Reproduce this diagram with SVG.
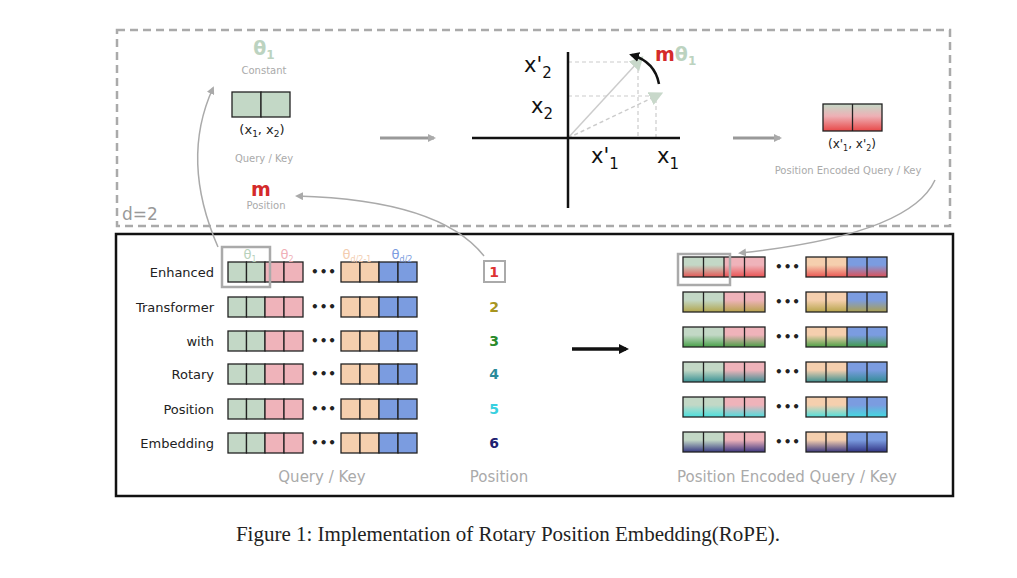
<svg xmlns="http://www.w3.org/2000/svg" width="1017" height="578" viewBox="0 0 1017 578">
<style>
text{font-family:"DejaVu Sans","Liberation Sans",sans-serif}
.c{stroke:#222;stroke-width:1.3}
.g{fill:#c3d8c6}.p{fill:#efb3ba}.o{fill:#f5cfae}.b{fill:#7b9ce0}
.lab{font-size:13px;fill:#222;text-anchor:end}
.dots{font-size:12px;fill:#222;font-weight:bold;letter-spacing:1px}
.gray{fill:#aaa;text-anchor:middle}
.num{font-size:14px;font-weight:bold;text-anchor:middle}
.ax{stroke:#111;stroke-width:2.5}
.dash{stroke:#ccc;stroke-width:1.2;stroke-dasharray:4 3;fill:none}
</style>
<defs>
<marker id="ah" markerWidth="8" markerHeight="8" refX="6" refY="4" orient="auto" markerUnits="userSpaceOnUse"><path d="M0,0L8,4L0,8z" fill="#aaa"/></marker>
<marker id="ahk" markerWidth="10" markerHeight="10" refX="7" refY="5" orient="auto" markerUnits="userSpaceOnUse"><path d="M0,0L10,5L0,10z" fill="#111"/></marker>
<marker id="ahl" markerWidth="14" markerHeight="14" refX="6" refY="7" orient="auto" markerUnits="userSpaceOnUse"><path d="M0,0L14,7L0,14z" fill="#c8d8ca"/></marker>
<g id="lrow">
<rect class="g c" x="228" y="-10" width="18.5" height="20"/><rect class="g c" x="246.5" y="-10" width="18.5" height="20"/>
<rect class="p c" x="265" y="-10" width="19" height="20"/><rect class="p c" x="284" y="-10" width="19" height="20"/>
<text class="dots" x="311" y="4">•••</text>
<rect class="o c" x="341" y="-10" width="19" height="20"/><rect class="o c" x="360" y="-10" width="19" height="20"/>
<rect class="b c" x="379" y="-10" width="19" height="20"/><rect class="b c" x="398" y="-10" width="19" height="20"/>
</g>
<g id="rbase">
<rect class="g" x="683" y="-10" width="41" height="20"/><rect class="p" x="724" y="-10" width="41" height="20"/>
<rect class="o" x="806" y="-10" width="41" height="20"/><rect class="b" x="847" y="-10" width="40" height="20"/>
</g>
<g id="rlines" fill="none" class="c">
<rect x="683" y="-10" width="82" height="20"/><path d="M703.5,-10v20M724,-10v20M744.5,-10v20"/>
<rect x="806" y="-10" width="81" height="20"/><path d="M826,-10v20M847,-10v20M867,-10v20"/>
</g>
<linearGradient id="g1" x1="0" y1="0" x2="0" y2="1"><stop offset="0.4" stop-color="#e84848" stop-opacity="0"/><stop offset="1" stop-color="#e84848" stop-opacity="0.9"/></linearGradient>
<linearGradient id="g2" x1="0" y1="0" x2="0" y2="1"><stop offset="0.4" stop-color="#b0a040" stop-opacity="0"/><stop offset="1" stop-color="#b0a040" stop-opacity="0.9"/></linearGradient>
<linearGradient id="g3" x1="0" y1="0" x2="0" y2="1"><stop offset="0.4" stop-color="#3a9a3a" stop-opacity="0"/><stop offset="1" stop-color="#3a9a3a" stop-opacity="0.9"/></linearGradient>
<linearGradient id="g4" x1="0" y1="0" x2="0" y2="1"><stop offset="0.4" stop-color="#2a8a8e" stop-opacity="0"/><stop offset="1" stop-color="#2a8a8e" stop-opacity="0.9"/></linearGradient>
<linearGradient id="g5" x1="0" y1="0" x2="0" y2="1"><stop offset="0.4" stop-color="#3de0e0" stop-opacity="0"/><stop offset="1" stop-color="#3de0e0" stop-opacity="0.9"/></linearGradient>
<linearGradient id="g6" x1="0" y1="0" x2="0" y2="1"><stop offset="0.4" stop-color="#28287a" stop-opacity="0"/><stop offset="1" stop-color="#28287a" stop-opacity="0.9"/></linearGradient>
<linearGradient id="tg" x1="0" y1="0" x2="0" y2="1"><stop offset="0" stop-color="#c3d8c6"/><stop offset="0.45" stop-color="#eeb0b5"/><stop offset="1" stop-color="#e84848"/></linearGradient>
</defs>
<rect width="1017" height="578" fill="#fff"/>
<g id="top-box"><rect x="117" y="30" width="833" height="196" fill="none" stroke="#aaa" stroke-width="2.5" stroke-dasharray="8 5"/>
<text x="122" y="220" font-size="17" fill="#999">d=2</text></g>
<g id="bottom-box"><rect x="116" y="234" width="837" height="262" fill="none" stroke="#111" stroke-width="2.5"/></g>

<g id="query-2d">
<text x="264" y="55" font-size="19" font-weight="bold" fill="#bcd3c0" text-anchor="middle">θ<tspan font-size="12" dy="4">1</tspan></text>
<text x="264" y="74" font-size="10" class="gray">Constant</text>
<rect class="g c" x="232" y="92" width="29" height="25"/><rect class="g c" x="261" y="92" width="29" height="25"/>
<text x="262" y="134" font-size="13" fill="#222" text-anchor="middle">(x<tspan font-size="9" dy="3">1</tspan><tspan dy="-3">, x</tspan><tspan font-size="9" dy="3">2</tspan><tspan dy="-3">)</tspan></text>
<text x="264" y="162" font-size="10" class="gray">Query / Key</text>
<text x="261" y="196" font-size="19" font-weight="bold" fill="#d42a2a" text-anchor="middle">m</text>
<text x="266" y="209" font-size="10" class="gray">Position</text>
</g>
<g id="rotation">
<path class="dash" d="M568,62H638V138M568,96H656V138"/>
<line x1="568" y1="138" x2="638" y2="62" stroke="#ccc" stroke-width="1.5" marker-end="url(#ahl)"/>
<line x1="568" y1="138" x2="656" y2="96" stroke="#ccc" stroke-width="1.5" stroke-dasharray="4 3" marker-end="url(#ahl)"/>
<line class="ax" x1="472" y1="138" x2="680" y2="138"/><line class="ax" x1="568" y1="52" x2="568" y2="208"/>
<path d="M659,84Q655,62 632,55" fill="none" stroke="#111" stroke-width="2.5" marker-end="url(#ahk)"/>
<text x="655" y="61" font-size="19" font-weight="bold" fill="#d42a2a">m<tspan fill="#bcd3c0">θ</tspan><tspan fill="#bcd3c0" font-size="12" dy="4">1</tspan></text>
<text x="524" y="72" font-size="21" fill="#111">x'<tspan font-size="15" dy="6">2</tspan></text>
<text x="531" y="113" font-size="21" fill="#111">x<tspan font-size="15" dy="6">2</tspan></text>
<text x="591" y="163" font-size="21" fill="#111">x'<tspan font-size="15" dy="6">1</tspan></text>
<text x="657" y="163" font-size="21" fill="#111">x<tspan font-size="15" dy="6">1</tspan></text>
</g>
<g id="encoded-2d">
<rect x="823" y="104" width="59" height="27" fill="url(#tg)" class="c"/><line class="c" x1="852.5" y1="104" x2="852.5" y2="131"/>
<text x="852" y="148" font-size="12" fill="#222" text-anchor="middle">(x'<tspan font-size="8" dy="3">1</tspan><tspan dy="-3">, x'</tspan><tspan font-size="8" dy="3">2</tspan><tspan dy="-3">)</tspan></text>
<text x="848" y="174" font-size="10" class="gray">Position Encoded Query / Key</text>
</g>

<g id="left-rows">
<text x="214" y="277" class="lab">Enhanced</text><use href="#lrow" y="272"/>
<text x="214" y="312" class="lab">Transformer</text><use href="#lrow" y="307"/>
<text x="214" y="346" class="lab">with</text><use href="#lrow" y="341"/>
<text x="214" y="379" class="lab">Rotary</text><use href="#lrow" y="374"/>
<text x="214" y="414" class="lab">Position</text><use href="#lrow" y="409"/>
<text x="214" y="448" class="lab">Embedding</text><use href="#lrow" y="443"/>
<text x="250" y="259" font-size="13" fill="#b8d2bc" text-anchor="middle">θ<tspan font-size="8" dy="3">1</tspan></text>
<text x="287" y="259" font-size="13" fill="#f0b0b8" text-anchor="middle">θ<tspan font-size="8" dy="3">2</tspan></text>
<text x="357" y="259" font-size="13" fill="#f3cdb0" text-anchor="middle">θ<tspan font-size="8" dy="3">d/2-1</tspan></text>
<text x="402" y="259" font-size="13" fill="#7b9ce0" text-anchor="middle">θ<tspan font-size="8" dy="3">d/2</tspan></text>
<rect x="222" y="247" width="48" height="40" fill="none" stroke="#aaa" stroke-width="2.5"/>
<text x="322" y="482" font-size="15" class="gray">Query / Key</text>
</g>
<g id="positions">
<rect x="484" y="261" width="21" height="21" fill="none" stroke="#aaa" stroke-width="2"/>
<text x="494" y="277" class="num" fill="#d33">1</text>
<text x="494" y="312" class="num" fill="#a89520">2</text>
<text x="494" y="346" class="num" fill="#2a8a2a">3</text>
<text x="494" y="379" class="num" fill="#2a8a9a">4</text>
<text x="494" y="414" class="num" fill="#38d0e0">5</text>
<text x="494" y="448" class="num" fill="#202070">6</text>
<text x="499" y="482" font-size="15" class="gray">Position</text>
</g>
<g id="right-rows">
<g transform="translate(0,267)"><use href="#rbase"/><rect x="683" y="-10" width="82" height="20" fill="url(#g1)"/><rect x="806" y="-10" width="81" height="20" fill="url(#g1)"/><use href="#rlines"/></g>
<g transform="translate(0,302)"><use href="#rbase"/><rect x="683" y="-10" width="82" height="20" fill="url(#g2)"/><rect x="806" y="-10" width="81" height="20" fill="url(#g2)"/><use href="#rlines"/></g>
<g transform="translate(0,337)"><use href="#rbase"/><rect x="683" y="-10" width="82" height="20" fill="url(#g3)"/><rect x="806" y="-10" width="81" height="20" fill="url(#g3)"/><use href="#rlines"/></g>
<g transform="translate(0,372)"><use href="#rbase"/><rect x="683" y="-10" width="82" height="20" fill="url(#g4)"/><rect x="806" y="-10" width="81" height="20" fill="url(#g4)"/><use href="#rlines"/></g>
<g transform="translate(0,407)"><use href="#rbase"/><rect x="683" y="-10" width="82" height="20" fill="url(#g5)"/><rect x="806" y="-10" width="81" height="20" fill="url(#g5)"/><use href="#rlines"/></g>
<g transform="translate(0,442)"><use href="#rbase"/><rect x="683" y="-10" width="82" height="20" fill="url(#g6)"/><rect x="806" y="-10" width="81" height="20" fill="url(#g6)"/><use href="#rlines"/></g>
<text class="dots" x="775" y="271">•••</text><text class="dots" x="775" y="306">•••</text><text class="dots" x="775" y="341">•••</text>
<text class="dots" x="775" y="376">•••</text><text class="dots" x="775" y="411">•••</text><text class="dots" x="775" y="446">•••</text>
<rect x="678" y="254" width="52" height="31" fill="none" stroke="#aaa" stroke-width="2.5"/>
<text x="787" y="482" font-size="15" class="gray">Position Encoded Query / Key</text>
</g>
<g id="connectors" fill="none">
<line x1="380" y1="138" x2="434" y2="138" stroke="#999" stroke-width="3" marker-end="url(#ah)"/>
<line x1="733" y1="138" x2="780" y2="138" stroke="#999" stroke-width="3" marker-end="url(#ah)"/>
<line x1="572" y1="349" x2="626" y2="349" stroke="#111" stroke-width="3.5" marker-end="url(#ahk)"/>
<path d="M218,247Q180,160 213,88" stroke="#aaa" stroke-width="1.5" marker-end="url(#ah)"/>
<path d="M484,256Q440,200 297,196" stroke="#aaa" stroke-width="1.5" marker-end="url(#ah)"/>
<path d="M935,180Q910,235 740,253" stroke="#aaa" stroke-width="1.5" marker-end="url(#ah)"/>
</g>
<text x="508" y="541" font-size="21" fill="#222" text-anchor="middle" style="font-family:'Liberation Serif',serif">Figure 1: Implementation of Rotary Position Embedding(RoPE).</text>
</svg>
